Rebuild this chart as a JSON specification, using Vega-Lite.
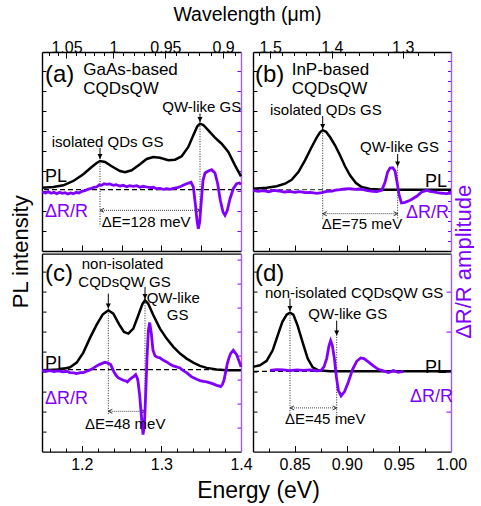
{
"$schema":"https://vega.github.io/schema/vega-lite/v6.json",
"padding":{"left":9,"top":4,"right":0,"bottom":0},
"bounds":"flush",
"columns":2,
"spacing":{"row":2.6,"column":12},
"config":{"view":{"stroke":null},
"axis":{"domainColor":"black","domainWidth":1.4,"tickColor":"black","tickWidth":1,"labelFont":"Liberation Sans","labelFontSize":16,"labelColor":"black","titleFont":"Liberation Sans","titleFontWeight":"normal","titleColor":"black","grid":false,"labelFlush":false,"labelOverlap":false},
"text":{"font":"Liberation Sans","align":"left","baseline":"alphabetic"}},
"datasets":{
"a_pl":[{"E":1.15,"v":63.3},{"E":1.1642,"v":64.0},{"E":1.1768,"v":65.7},{"E":1.1894,"v":70.0},{"E":1.2019,"v":76.7},{"E":1.2124,"v":84.0},{"E":1.2187,"v":88.0},{"E":1.2229,"v":90.0},{"E":1.2292,"v":89.0},{"E":1.2375,"v":84.7},{"E":1.248,"v":80.0},{"E":1.2543,"v":78.7},{"E":1.2626,"v":80.7},{"E":1.2731,"v":86.7},{"E":1.2815,"v":92.0},{"E":1.2899,"v":94.0},{"E":1.2982,"v":93.3},{"E":1.3087,"v":90.7},{"E":1.3171,"v":91.3},{"E":1.3255,"v":94.7},{"E":1.3338,"v":104.0},{"E":1.3401,"v":115.7},{"E":1.3451,"v":124.7},{"E":1.3485,"v":127.3},{"E":1.3527,"v":126.0},{"E":1.359,"v":120.7},{"E":1.3673,"v":113.3},{"E":1.3757,"v":107.3},{"E":1.3841,"v":99.0},{"E":1.3925,"v":85.7},{"E":1.4,"v":74.7}],
"a_dr":[{"E":1.15,"v":59.0},{"E":1.1545,"v":58.0},{"E":1.158,"v":59.3},{"E":1.1615,"v":57.7},{"E":1.165,"v":58.7},{"E":1.1684,"v":57.3},{"E":1.172,"v":58.7},{"E":1.1755,"v":57.7},{"E":1.179,"v":58.3},{"E":1.1825,"v":57.0},{"E":1.186,"v":58.0},{"E":1.1895,"v":57.3},{"E":1.193,"v":58.7},{"E":1.1965,"v":58.0},{"E":1.2,"v":59.7},{"E":1.204,"v":60.3},{"E":1.2075,"v":61.7},{"E":1.211,"v":62.3},{"E":1.215,"v":63.7},{"E":1.2187,"v":64.0},{"E":1.222,"v":66.3},{"E":1.225,"v":65.7},{"E":1.228,"v":67.3},{"E":1.2312,"v":66.7},{"E":1.235,"v":67.0},{"E":1.2396,"v":65.7},{"E":1.243,"v":66.3},{"E":1.248,"v":65.0},{"E":1.252,"v":65.7},{"E":1.2564,"v":64.3},{"E":1.26,"v":65.3},{"E":1.2647,"v":64.7},{"E":1.269,"v":65.3},{"E":1.2731,"v":63.7},{"E":1.277,"v":64.7},{"E":1.2815,"v":64.0},{"E":1.286,"v":63.3},{"E":1.2899,"v":63.7},{"E":1.294,"v":62.3},{"E":1.2982,"v":62.7},{"E":1.3025,"v":61.7},{"E":1.3066,"v":62.3},{"E":1.311,"v":61.7},{"E":1.315,"v":62.7},{"E":1.32,"v":63.3},{"E":1.3234,"v":64.3},{"E":1.328,"v":66.0},{"E":1.3317,"v":67.3},{"E":1.3372,"v":68.7},{"E":1.3401,"v":64.0},{"E":1.3426,"v":47.3},{"E":1.3447,"v":30.7},{"E":1.3464,"v":22.3},{"E":1.3481,"v":29.0},{"E":1.3502,"v":50.7},{"E":1.3523,"v":70.7},{"E":1.3548,"v":78.0},{"E":1.359,"v":80.0},{"E":1.3631,"v":81.3},{"E":1.3673,"v":78.0},{"E":1.3707,"v":67.3},{"E":1.374,"v":50.7},{"E":1.3774,"v":39.0},{"E":1.3799,"v":35.7},{"E":1.3828,"v":40.7},{"E":1.3862,"v":52.3},{"E":1.3903,"v":62.3},{"E":1.3945,"v":67.3},{"E":1.3979,"v":68.0},{"E":1.4,"v":66.7}],
"b_pl":[{"E":0.81,"v":62.3},{"E":0.8231,"v":63.3},{"E":0.8327,"v":64.7},{"E":0.8407,"v":67.3},{"E":0.8471,"v":71.3},{"E":0.8535,"v":79.0},{"E":0.8599,"v":90.7},{"E":0.8663,"v":104.0},{"E":0.8711,"v":113.3},{"E":0.8743,"v":118.7},{"E":0.8769,"v":120.7},{"E":0.8801,"v":119.3},{"E":0.8839,"v":114.0},{"E":0.8887,"v":105.7},{"E":0.8935,"v":95.7},{"E":0.8983,"v":84.7},{"E":0.9031,"v":75.7},{"E":0.9088,"v":68.0},{"E":0.9143,"v":64.0},{"E":0.9223,"v":62.0},{"E":0.9351,"v":61.3},{"E":0.9671,"v":61.3},{"E":1.0,"v":61.3}],
"b_dr":[{"E":0.81,"v":60.7},{"E":0.815,"v":59.7},{"E":0.8199,"v":60.3},{"E":0.825,"v":59.3},{"E":0.83,"v":60.7},{"E":0.835,"v":60.0},{"E":0.84,"v":59.0},{"E":0.8455,"v":59.7},{"E":0.85,"v":58.7},{"E":0.855,"v":59.3},{"E":0.86,"v":58.3},{"E":0.865,"v":58.7},{"E":0.8711,"v":57.7},{"E":0.876,"v":58.3},{"E":0.8807,"v":59.7},{"E":0.886,"v":60.0},{"E":0.89,"v":61.0},{"E":0.8935,"v":61.3},{"E":0.898,"v":62.0},{"E":0.9031,"v":62.3},{"E":0.908,"v":61.7},{"E":0.912,"v":62.0},{"E":0.9159,"v":61.3},{"E":0.92,"v":60.3},{"E":0.925,"v":59.7},{"E":0.9287,"v":59.3},{"E":0.9335,"v":60.7},{"E":0.9367,"v":68.7},{"E":0.9392,"v":79.0},{"E":0.9415,"v":83.0},{"E":0.9441,"v":83.3},{"E":0.9463,"v":80.0},{"E":0.9482,"v":69.0},{"E":0.9501,"v":56.7},{"E":0.9524,"v":48.0},{"E":0.9559,"v":48.7},{"E":0.9607,"v":50.7},{"E":0.964,"v":52.7},{"E":0.9671,"v":54.7},{"E":0.9719,"v":59.0},{"E":0.9767,"v":60.7},{"E":0.98,"v":59.7},{"E":0.9831,"v":59.0},{"E":0.987,"v":58.3},{"E":0.9895,"v":58.0},{"E":0.993,"v":57.7},{"E":0.9959,"v":57.3},{"E":1.0,"v":58.0}],
"c_pl":[{"E":1.15,"v":81.3},{"E":1.1726,"v":82.0},{"E":1.1852,"v":84.3},{"E":1.1936,"v":89.0},{"E":1.2019,"v":99.0},{"E":1.2103,"v":113.7},{"E":1.2187,"v":127.0},{"E":1.2262,"v":137.0},{"E":1.2333,"v":141.3},{"E":1.2396,"v":138.0},{"E":1.2471,"v":127.0},{"E":1.253,"v":119.7},{"E":1.2585,"v":118.0},{"E":1.2647,"v":123.0},{"E":1.271,"v":136.3},{"E":1.276,"v":147.3},{"E":1.2794,"v":151.3},{"E":1.2836,"v":147.7},{"E":1.2899,"v":136.3},{"E":1.2982,"v":123.0},{"E":1.3066,"v":113.0},{"E":1.315,"v":104.7},{"E":1.3234,"v":98.0},{"E":1.3317,"v":93.0},{"E":1.3401,"v":89.0},{"E":1.3485,"v":85.7},{"E":1.3569,"v":83.7},{"E":1.3694,"v":82.0},{"E":1.382,"v":81.3},{"E":1.4,"v":81.3}],
"c_dr":[{"E":1.15,"v":81.3},{"E":1.155,"v":80.3},{"E":1.1601,"v":81.0},{"E":1.165,"v":80.0},{"E":1.17,"v":80.7},{"E":1.1768,"v":79.7},{"E":1.181,"v":80.3},{"E":1.1852,"v":79.0},{"E":1.19,"v":78.7},{"E":1.1936,"v":78.0},{"E":1.198,"v":79.0},{"E":1.2019,"v":79.0},{"E":1.206,"v":80.3},{"E":1.2103,"v":81.7},{"E":1.215,"v":83.7},{"E":1.2187,"v":85.7},{"E":1.222,"v":87.0},{"E":1.225,"v":88.0},{"E":1.229,"v":89.3},{"E":1.2312,"v":89.0},{"E":1.234,"v":88.0},{"E":1.2363,"v":87.0},{"E":1.2385,"v":83.0},{"E":1.2404,"v":79.7},{"E":1.243,"v":76.3},{"E":1.2459,"v":73.7},{"E":1.249,"v":72.7},{"E":1.2522,"v":71.3},{"E":1.255,"v":70.7},{"E":1.2572,"v":69.7},{"E":1.26,"v":72.0},{"E":1.2627,"v":73.7},{"E":1.2655,"v":75.3},{"E":1.2677,"v":77.0},{"E":1.2695,"v":74.0},{"E":1.2706,"v":70.3},{"E":1.2727,"v":56.3},{"E":1.2748,"v":36.3},{"E":1.2769,"v":17.0},{"E":1.2786,"v":26.3},{"E":1.2802,"v":56.3},{"E":1.2819,"v":93.0},{"E":1.2836,"v":121.3},{"E":1.2853,"v":129.0},{"E":1.2874,"v":118.0},{"E":1.2894,"v":101.3},{"E":1.292,"v":95.7},{"E":1.295,"v":94.3},{"E":1.2982,"v":93.7},{"E":1.3025,"v":91.3},{"E":1.3066,"v":89.7},{"E":1.311,"v":87.3},{"E":1.315,"v":85.7},{"E":1.319,"v":84.7},{"E":1.3234,"v":83.7},{"E":1.3275,"v":81.0},{"E":1.3317,"v":79.0},{"E":1.335,"v":76.7},{"E":1.338,"v":74.7},{"E":1.341,"v":73.7},{"E":1.3443,"v":72.3},{"E":1.3485,"v":71.0},{"E":1.3527,"v":70.3},{"E":1.357,"v":69.7},{"E":1.3611,"v":68.7},{"E":1.365,"v":67.7},{"E":1.3694,"v":66.3},{"E":1.372,"v":65.7},{"E":1.3744,"v":65.0},{"E":1.3766,"v":67.0},{"E":1.3786,"v":71.3},{"E":1.3808,"v":80.0},{"E":1.3828,"v":88.0},{"E":1.385,"v":94.0},{"E":1.3869,"v":98.0},{"E":1.3903,"v":101.3},{"E":1.3945,"v":97.0},{"E":1.3979,"v":89.7},{"E":1.4,"v":84.7}],
"d_pl":[{"E":0.81,"v":84.7},{"E":0.8167,"v":86.3},{"E":0.8231,"v":90.7},{"E":0.8289,"v":101.3},{"E":0.8337,"v":116.3},{"E":0.8382,"v":129.7},{"E":0.8423,"v":137.0},{"E":0.8455,"v":139.0},{"E":0.8487,"v":137.0},{"E":0.8529,"v":125.7},{"E":0.8577,"v":109.0},{"E":0.8625,"v":93.0},{"E":0.8673,"v":84.3},{"E":0.8727,"v":81.3},{"E":0.8839,"v":80.3},{"E":1.0,"v":80.3}],
"d_dr":[{"E":0.8263,"v":81.3},{"E":0.8327,"v":82.0},{"E":0.8391,"v":81.7},{"E":0.8455,"v":81.0},{"E":0.8519,"v":81.7},{"E":0.8583,"v":81.3},{"E":0.8647,"v":81.7},{"E":0.8711,"v":80.7},{"E":0.8749,"v":81.0},{"E":0.8781,"v":84.7},{"E":0.8807,"v":93.0},{"E":0.8829,"v":105.7},{"E":0.8845,"v":111.0},{"E":0.8861,"v":106.3},{"E":0.8881,"v":93.0},{"E":0.89,"v":74.7},{"E":0.8919,"v":61.3},{"E":0.8945,"v":55.7},{"E":0.8977,"v":59.7},{"E":0.9015,"v":69.7},{"E":0.9056,"v":82.3},{"E":0.9095,"v":90.3},{"E":0.9133,"v":93.7},{"E":0.9165,"v":93.0},{"E":0.9207,"v":89.7},{"E":0.9255,"v":85.7},{"E":0.9303,"v":82.3},{"E":0.9351,"v":80.7},{"E":0.9399,"v":79.0},{"E":0.9447,"v":81.0},{"E":0.9495,"v":79.3},{"E":0.9543,"v":80.3}],
"ann":[
{"p":"a","k":"base","v":61.3},
{"p":"a","k":"vdot","E":1.2229,"v":90,"v2":26},
{"p":"a","k":"vdot","E":1.3485,"v":127.3,"v2":33},
{"p":"a","k":"stem","E":1.2229,"v":103,"v2":92},
{"p":"a","k":"stem","E":1.3485,"v":137.5,"v2":129},
{"p":"a","k":"de","E":1.2229,"E2":1.3485,"v":40.7},
{"p":"a","k":"lab","E":1.1538,"v":169.2,"t":"(a)"},
{"p":"a","k":"sub","E":1.2019,"v":175.7,"t":"GaAs-based"},
{"p":"a","k":"sub","E":1.2019,"v":157.4,"t":"CQDsQW"},
{"p":"a","k":"note","E":1.3011,"v":139,"t":"QW-like GS"},
{"p":"a","k":"note","E":1.1622,"v":104,"t":"isolated QDs GS"},
{"p":"a","k":"note","E":1.225,"v":24,"t":"ΔE=128 meV"},
{"p":"a","k":"pl","E":1.1538,"v":69,"t":"PL"},
{"p":"a","k":"dr","E":1.1538,"v":34,"t":"ΔR/R"},
{"p":"b","k":"base","v":61.3},
{"p":"b","k":"vdot","E":0.8769,"v":120.7,"v2":32.3},
{"p":"b","k":"vdot","E":0.9488,"v":83.7,"v2":32.3},
{"p":"b","k":"stem","E":0.8769,"v":135,"v2":122},
{"p":"b","k":"stem","E":0.9488,"v":97,"v2":84.5},
{"p":"b","k":"de","E":0.8769,"E2":0.9488,"v":37.3},
{"p":"b","k":"lab","E":0.8119,"v":169.2,"t":"(b)"},
{"p":"b","k":"sub","E":0.8471,"v":175.7,"t":"InP-based"},
{"p":"b","k":"sub","E":0.8471,"v":157.4,"t":"CQDsQW"},
{"p":"b","k":"note","E":0.8263,"v":135.7,"t":"isolated QDs GS"},
{"p":"b","k":"note","E":0.9127,"v":99,"t":"QW-like GS"},
{"p":"b","k":"note","E":0.8759,"v":22.3,"t":"ΔE=75 meV"},
{"p":"b","k":"pl","E":0.9751,"v":64,"t":"PL"},
{"p":"b","k":"dr","E":0.9568,"v":33,"t":"ΔR/R"},
{"p":"c","k":"base","v":82.0},
{"p":"c","k":"vdot","E":1.2333,"v":141.3,"v2":36.3},
{"p":"c","k":"vdot","E":1.2794,"v":151.3,"v2":36.3},
{"p":"c","k":"stem","E":1.2333,"v":158,"v2":143},
{"p":"c","k":"stem","E":1.2794,"v":164.7,"v2":152.5},
{"p":"c","k":"de","E":1.2333,"E2":1.2794,"v":40.3},
{"p":"c","k":"lab","E":1.1538,"v":170.3,"t":"(c)"},
{"p":"c","k":"note","E":1.1999,"v":183,"t":"non-isolated"},
{"p":"c","k":"note","E":1.1956,"v":164.7,"t":"CQDsQW GS"},
{"p":"c","k":"note","E":1.2815,"v":148.7,"t":"QW-like"},
{"p":"c","k":"note","E":1.3067,"v":132,"t":"GS"},
{"p":"c","k":"note","E":1.204,"v":22.3,"t":"ΔE=48 meV"},
{"p":"c","k":"pl","E":1.1538,"v":82.3,"t":"PL"},
{"p":"c","k":"dr","E":1.1538,"v":48,"t":"ΔR/R"},
{"p":"d","k":"base","v":80.3},
{"p":"d","k":"vdot","E":0.8455,"v":139,"v2":36.3},
{"p":"d","k":"vdot","E":0.8903,"v":114.7,"v2":36.3},
{"p":"d","k":"stem","E":0.8455,"v":153,"v2":140.5},
{"p":"d","k":"stem","E":0.8903,"v":131,"v2":116},
{"p":"d","k":"de","E":0.8455,"E2":0.8903,"v":43.7},
{"p":"d","k":"lab","E":0.8119,"v":170.3,"t":"(d)"},
{"p":"d","k":"note","E":0.8215,"v":153.7,"t":"non-isolated CQDsQW GS"},
{"p":"d","k":"note","E":0.8631,"v":132.3,"t":"QW-like GS"},
{"p":"d","k":"note","E":0.8407,"v":28,"t":"ΔE=45 meV"},
{"p":"d","k":"pl","E":0.9751,"v":78.7,"t":"PL"},
{"p":"d","k":"dr","E":0.9607,"v":49.7,"t":"ΔR/R"}
]},
"concat":[
{"width":199,"height":199,"resolve":{"scale":{"x":"independent","y":"independent"}},
"layer":[
{"data":{"name":"ann"},"transform":[{"filter":"datum.p=='a'&&datum.k=='base'"}],"mark":{"type":"rule","color":"black","strokeWidth":1.2,"strokeDash":[5,3]},"encoding":{"y":{"field":"v","type":"quantitative","scale":{"domain":[0,199],"nice":false,"zero":false},"axis":null}}},
{"data":{"name":"ann"},"transform":[{"filter":"datum.p=='a'&&datum.k=='vdot'"}],"mark":{"type":"rule","color":"#222","strokeWidth":1,"strokeDash":[1,1.5]},"encoding":{"x":{"field":"E","type":"quantitative","scale":{"domain":[1.15,1.4],"nice":false,"zero":false},"axis":null},"y":{"field":"v","type":"quantitative","scale":{"domain":[0,199],"nice":false,"zero":false},"axis":null},"y2":{"field":"v2"}}},
{"data":{"name":"ann"},"transform":[{"filter":"datum.p=='a'&&datum.k=='de'"}],"mark":{"type":"rule","color":"#444","strokeWidth":1,"strokeDash":[1,1]},"encoding":{"x":{"field":"E","type":"quantitative","scale":{"domain":[1.15,1.4],"nice":false,"zero":false},"axis":null},"x2":{"field":"E2"},"y":{"field":"v","type":"quantitative","scale":{"domain":[0,199],"nice":false,"zero":false},"axis":null}}},
{"data":{"name":"ann"},"transform":[{"filter":"datum.p=='a'&&datum.k=='de'"}],"mark":{"type":"point","shape":"M0,0L2,-1M0,0L2,1","filled":false,"color":"#333","strokeWidth":1,"size":16,"opacity":1},"encoding":{"x":{"field":"E","type":"quantitative","scale":{"domain":[1.15,1.4],"nice":false,"zero":false},"axis":null},"y":{"field":"v","type":"quantitative","scale":{"domain":[0,199],"nice":false,"zero":false},"axis":null}}},
{"data":{"name":"ann"},"transform":[{"filter":"datum.p=='a'&&datum.k=='de'"}],"mark":{"type":"point","shape":"M0,0L-2,-1M0,0L-2,1","filled":false,"color":"#333","strokeWidth":1,"size":16,"opacity":1},"encoding":{"x":{"field":"E2","type":"quantitative","scale":{"domain":[1.15,1.4],"nice":false,"zero":false},"axis":null},"y":{"field":"v","type":"quantitative","scale":{"domain":[0,199],"nice":false,"zero":false},"axis":null}}},
{"data":{"name":"a_pl"},"mark":{"type":"line","color":"black","strokeWidth":2.5},"encoding":{"x":{"field":"E","type":"quantitative","scale":{"domain":[1.15,1.4],"nice":false,"zero":false},"axis":{"orient":"bottom","values":[1.175,1.2,1.225,1.25,1.275,1.3,1.325,1.35,1.375],"labels":false,"tickSize":{"condition":{"test":"datum.value==1.2||datum.value==1.25||datum.value==1.3||datum.value==1.35","value":-6},"value":-3.5},"title":null}},"y":{"field":"v","type":"quantitative","scale":{"domain":[0,199],"nice":false,"zero":false},"axis":{"orient":"left","values":[20,40,60,80,100,120,140,160,180],"labels":false,"tickSize":-4,"title":"PL intensity","titleFontSize":22,"titleX":-15,"titleY":199.3,"titleAngle":270,"titleBaseline":"alphabetic","titleAlign":"center"}}}},
{"data":{"name":"a_dr"},"mark":{"type":"line","color":"#8000ff","strokeWidth":2.8},"encoding":{"x":{"field":"E","type":"quantitative","scale":{"domain":[1.15,1.4],"nice":false,"zero":false},"axis":{"orient":"top","values":[1.15869,1.16962,1.18076,1.19212,1.20369,1.21549,1.22752,1.2398,1.25232,1.2651,1.27814,1.29146,1.30505,1.31894,1.33312,1.34761,1.36242,1.37756,1.39303],"tickSize":{"condition":{"test":"datum.value==1.18076||datum.value==1.2398||datum.value==1.30505||datum.value==1.37756","value":-6},"value":-3.5},"labelExpr":"datum.value==1.18076?'1.05':datum.value==1.2398?'1':datum.value==1.30505?'0.95':datum.value==1.37756?'0.9':''","labelPadding":3,"title":"Wavelength (μm)","titleFontSize":19.5,"titleX":205,"titleY":-31.7,"titleBaseline":"alphabetic","titleAlign":"center"}},"y":{"field":"v","type":"quantitative","scale":{"domain":[0,199],"nice":false,"zero":false},"axis":{"orient":"right","values":[20,40,60,80,100,120,140,160,180],"labels":false,"tickSize":-4,"domainColor":"#9b5cff","tickColor":"#8000ff","title":null}}}},
{"data":{"name":"ann"},"transform":[{"filter":"datum.p=='a'&&datum.k=='stem'"}],"mark":{"type":"rule","color":"black","strokeWidth":1},"encoding":{"x":{"field":"E","type":"quantitative","scale":{"domain":[1.15,1.4],"nice":false,"zero":false},"axis":null},"y":{"field":"v","type":"quantitative","scale":{"domain":[0,199],"nice":false,"zero":false},"axis":null},"y2":{"field":"v2"}}},
{"data":{"name":"ann"},"transform":[{"filter":"datum.p=='a'&&datum.k=='stem'"}],"mark":{"type":"point","shape":"M0,0L-1,-2L1,-2Z","filled":true,"color":"black","size":25,"opacity":1},"encoding":{"x":{"field":"E","type":"quantitative","scale":{"domain":[1.15,1.4],"nice":false,"zero":false},"axis":null},"y":{"field":"v2","type":"quantitative","scale":{"domain":[0,199],"nice":false,"zero":false},"axis":null}}},
{"data":{"name":"ann"},"transform":[{"filter":"datum.p=='a'&&datum.k=='lab'"}],"mark":{"type":"text","fontSize":24,"color":"black"},"encoding":{"x":{"field":"E","type":"quantitative","scale":{"domain":[1.15,1.4],"nice":false,"zero":false},"axis":null},"y":{"field":"v","type":"quantitative","scale":{"domain":[0,199],"nice":false,"zero":false},"axis":null},"text":{"field":"t"}}},
{"data":{"name":"ann"},"transform":[{"filter":"datum.p=='a'&&datum.k=='sub'"}],"mark":{"type":"text","fontSize":17,"color":"black"},"encoding":{"x":{"field":"E","type":"quantitative","scale":{"domain":[1.15,1.4],"nice":false,"zero":false},"axis":null},"y":{"field":"v","type":"quantitative","scale":{"domain":[0,199],"nice":false,"zero":false},"axis":null},"text":{"field":"t"}}},
{"data":{"name":"ann"},"transform":[{"filter":"datum.p=='a'&&datum.k=='note'"}],"mark":{"type":"text","fontSize":15,"color":"black"},"encoding":{"x":{"field":"E","type":"quantitative","scale":{"domain":[1.15,1.4],"nice":false,"zero":false},"axis":null},"y":{"field":"v","type":"quantitative","scale":{"domain":[0,199],"nice":false,"zero":false},"axis":null},"text":{"field":"t"}}},
{"data":{"name":"ann"},"transform":[{"filter":"datum.p=='a'&&datum.k=='pl'"}],"mark":{"type":"text","fontSize":18,"color":"black"},"encoding":{"x":{"field":"E","type":"quantitative","scale":{"domain":[1.15,1.4],"nice":false,"zero":false},"axis":null},"y":{"field":"v","type":"quantitative","scale":{"domain":[0,199],"nice":false,"zero":false},"axis":null},"text":{"field":"t"}}},
{"data":{"name":"ann"},"transform":[{"filter":"datum.p=='a'&&datum.k=='dr'"}],"mark":{"type":"text","fontSize":18,"color":"#8000ff"},"encoding":{"x":{"field":"E","type":"quantitative","scale":{"domain":[1.15,1.4],"nice":false,"zero":false},"axis":null},"y":{"field":"v","type":"quantitative","scale":{"domain":[0,199],"nice":false,"zero":false},"axis":null},"text":{"field":"t"}}}
]},
{"width":198,"height":199,"resolve":{"scale":{"x":"independent","y":"independent"}},
"layer":[
{"data":{"name":"ann"},"transform":[{"filter":"datum.p=='b'&&datum.k=='base'"}],"mark":{"type":"rule","color":"#555","strokeWidth":1.2,"strokeDash":[5,3]},"encoding":{"y":{"field":"v","type":"quantitative","scale":{"domain":[0,199],"nice":false,"zero":false},"axis":null}}},
{"data":{"name":"ann"},"transform":[{"filter":"datum.p=='b'&&datum.k=='vdot'"}],"mark":{"type":"rule","color":"#222","strokeWidth":1,"strokeDash":[1,1.5]},"encoding":{"x":{"field":"E","type":"quantitative","scale":{"domain":[0.81,1.0],"nice":false,"zero":false},"axis":null},"y":{"field":"v","type":"quantitative","scale":{"domain":[0,199],"nice":false,"zero":false},"axis":null},"y2":{"field":"v2"}}},
{"data":{"name":"ann"},"transform":[{"filter":"datum.p=='b'&&datum.k=='de'"}],"mark":{"type":"rule","color":"#444","strokeWidth":1,"strokeDash":[1,1]},"encoding":{"x":{"field":"E","type":"quantitative","scale":{"domain":[0.81,1.0],"nice":false,"zero":false},"axis":null},"x2":{"field":"E2"},"y":{"field":"v","type":"quantitative","scale":{"domain":[0,199],"nice":false,"zero":false},"axis":null}}},
{"data":{"name":"ann"},"transform":[{"filter":"datum.p=='b'&&datum.k=='de'"}],"mark":{"type":"point","shape":"M0,0L2,-1M0,0L2,1","filled":false,"color":"#333","strokeWidth":1,"size":16,"opacity":1},"encoding":{"x":{"field":"E","type":"quantitative","scale":{"domain":[0.81,1.0],"nice":false,"zero":false},"axis":null},"y":{"field":"v","type":"quantitative","scale":{"domain":[0,199],"nice":false,"zero":false},"axis":null}}},
{"data":{"name":"ann"},"transform":[{"filter":"datum.p=='b'&&datum.k=='de'"}],"mark":{"type":"point","shape":"M0,0L-2,-1M0,0L-2,1","filled":false,"color":"#333","strokeWidth":1,"size":16,"opacity":1},"encoding":{"x":{"field":"E2","type":"quantitative","scale":{"domain":[0.81,1.0],"nice":false,"zero":false},"axis":null},"y":{"field":"v","type":"quantitative","scale":{"domain":[0,199],"nice":false,"zero":false},"axis":null}}},
{"data":{"name":"b_pl"},"mark":{"type":"line","color":"black","strokeWidth":2.5},"encoding":{"x":{"field":"E","type":"quantitative","scale":{"domain":[0.81,1.0],"nice":false,"zero":false},"axis":{"orient":"bottom","values":[0.825,0.85,0.875,0.9,0.925,0.95,0.975],"labels":false,"tickSize":{"condition":{"test":"datum.value==0.85||datum.value==0.9||datum.value==0.95","value":-6},"value":-3.5},"title":null}},"y":{"field":"v","type":"quantitative","scale":{"domain":[0,199],"nice":false,"zero":false},"axis":{"orient":"left","values":[20,40,60,80,100,120,140,160,180],"labels":false,"tickSize":-4,"title":null}}}},
{"data":{"name":"b_dr"},"mark":{"type":"line","color":"#8000ff","strokeWidth":2.8},"encoding":{"x":{"field":"E","type":"quantitative","scale":{"domain":[0.81,1.0],"nice":false,"zero":false},"axis":{"orient":"top","values":[0.81566,0.82653,0.8377,0.84918,0.86097,0.8731,0.88557,0.89841,0.91162,0.92522,0.93924,0.95369,0.96859,0.98397,0.99984],"tickSize":{"condition":{"test":"datum.value==0.82653||datum.value==0.88557||datum.value==0.95369","value":-6},"value":-3.5},"labelExpr":"datum.value==0.82653?'1.5':datum.value==0.88557?'1.4':datum.value==0.95369?'1.3':''","labelPadding":3,"title":null}},"y":{"field":"v","type":"quantitative","scale":{"domain":[0,199],"nice":false,"zero":false},"axis":{"orient":"right","values":[10,20,30,40,50,60,70,80,90,100,110,120,130,140,150,160,170,180,190],"labels":false,"tickSize":-3.5,"domainColor":"#9b5cff","tickColor":"#8000ff","title":"ΔR/R amplitude","titleColor":"#8000ff","titleFontSize":22,"titleAngle":270,"titleX":19,"titleY":209.3,"titleBaseline":"alphabetic","titleAlign":"center"}}}},
{"data":{"name":"ann"},"transform":[{"filter":"datum.p=='b'&&datum.k=='stem'"}],"mark":{"type":"rule","color":"black","strokeWidth":1},"encoding":{"x":{"field":"E","type":"quantitative","scale":{"domain":[0.81,1.0],"nice":false,"zero":false},"axis":null},"y":{"field":"v","type":"quantitative","scale":{"domain":[0,199],"nice":false,"zero":false},"axis":null},"y2":{"field":"v2"}}},
{"data":{"name":"ann"},"transform":[{"filter":"datum.p=='b'&&datum.k=='stem'"}],"mark":{"type":"point","shape":"M0,0L-1,-2L1,-2Z","filled":true,"color":"black","size":25,"opacity":1},"encoding":{"x":{"field":"E","type":"quantitative","scale":{"domain":[0.81,1.0],"nice":false,"zero":false},"axis":null},"y":{"field":"v2","type":"quantitative","scale":{"domain":[0,199],"nice":false,"zero":false},"axis":null}}},
{"data":{"name":"ann"},"transform":[{"filter":"datum.p=='b'&&datum.k=='lab'"}],"mark":{"type":"text","fontSize":24,"color":"black"},"encoding":{"x":{"field":"E","type":"quantitative","scale":{"domain":[0.81,1.0],"nice":false,"zero":false},"axis":null},"y":{"field":"v","type":"quantitative","scale":{"domain":[0,199],"nice":false,"zero":false},"axis":null},"text":{"field":"t"}}},
{"data":{"name":"ann"},"transform":[{"filter":"datum.p=='b'&&datum.k=='sub'"}],"mark":{"type":"text","fontSize":17,"color":"black"},"encoding":{"x":{"field":"E","type":"quantitative","scale":{"domain":[0.81,1.0],"nice":false,"zero":false},"axis":null},"y":{"field":"v","type":"quantitative","scale":{"domain":[0,199],"nice":false,"zero":false},"axis":null},"text":{"field":"t"}}},
{"data":{"name":"ann"},"transform":[{"filter":"datum.p=='b'&&datum.k=='note'"}],"mark":{"type":"text","fontSize":15,"color":"black"},"encoding":{"x":{"field":"E","type":"quantitative","scale":{"domain":[0.81,1.0],"nice":false,"zero":false},"axis":null},"y":{"field":"v","type":"quantitative","scale":{"domain":[0,199],"nice":false,"zero":false},"axis":null},"text":{"field":"t"}}},
{"data":{"name":"ann"},"transform":[{"filter":"datum.p=='b'&&datum.k=='pl'"}],"mark":{"type":"text","fontSize":18,"color":"black"},"encoding":{"x":{"field":"E","type":"quantitative","scale":{"domain":[0.81,1.0],"nice":false,"zero":false},"axis":null},"y":{"field":"v","type":"quantitative","scale":{"domain":[0,199],"nice":false,"zero":false},"axis":null},"text":{"field":"t"}}},
{"data":{"name":"ann"},"transform":[{"filter":"datum.p=='b'&&datum.k=='dr'"}],"mark":{"type":"text","fontSize":18,"color":"#8000ff"},"encoding":{"x":{"field":"E","type":"quantitative","scale":{"domain":[0.81,1.0],"nice":false,"zero":false},"axis":null},"y":{"field":"v","type":"quantitative","scale":{"domain":[0,199],"nice":false,"zero":false},"axis":null},"text":{"field":"t"}}}
]},
{"width":199,"height":198,"resolve":{"scale":{"x":"independent","y":"independent"}},
"layer":[
{"data":{"name":"ann"},"transform":[{"filter":"datum.p=='c'&&datum.k=='base'"}],"mark":{"type":"rule","color":"black","strokeWidth":1.2,"strokeDash":[5,3]},"encoding":{"y":{"field":"v","type":"quantitative","scale":{"domain":[0,198],"nice":false,"zero":false},"axis":null}}},
{"data":{"name":"ann"},"transform":[{"filter":"datum.p=='c'&&datum.k=='vdot'"}],"mark":{"type":"rule","color":"#222","strokeWidth":1,"strokeDash":[1,1.5]},"encoding":{"x":{"field":"E","type":"quantitative","scale":{"domain":[1.15,1.4],"nice":false,"zero":false},"axis":null},"y":{"field":"v","type":"quantitative","scale":{"domain":[0,198],"nice":false,"zero":false},"axis":null},"y2":{"field":"v2"}}},
{"data":{"name":"ann"},"transform":[{"filter":"datum.p=='c'&&datum.k=='de'"}],"mark":{"type":"rule","color":"#444","strokeWidth":1,"strokeDash":[1,1]},"encoding":{"x":{"field":"E","type":"quantitative","scale":{"domain":[1.15,1.4],"nice":false,"zero":false},"axis":null},"x2":{"field":"E2"},"y":{"field":"v","type":"quantitative","scale":{"domain":[0,198],"nice":false,"zero":false},"axis":null}}},
{"data":{"name":"ann"},"transform":[{"filter":"datum.p=='c'&&datum.k=='de'"}],"mark":{"type":"point","shape":"M0,0L2,-1M0,0L2,1","filled":false,"color":"#333","strokeWidth":1,"size":16,"opacity":1},"encoding":{"x":{"field":"E","type":"quantitative","scale":{"domain":[1.15,1.4],"nice":false,"zero":false},"axis":null},"y":{"field":"v","type":"quantitative","scale":{"domain":[0,198],"nice":false,"zero":false},"axis":null}}},
{"data":{"name":"ann"},"transform":[{"filter":"datum.p=='c'&&datum.k=='de'"}],"mark":{"type":"point","shape":"M0,0L-2,-1M0,0L-2,1","filled":false,"color":"#333","strokeWidth":1,"size":16,"opacity":1},"encoding":{"x":{"field":"E2","type":"quantitative","scale":{"domain":[1.15,1.4],"nice":false,"zero":false},"axis":null},"y":{"field":"v","type":"quantitative","scale":{"domain":[0,198],"nice":false,"zero":false},"axis":null}}},
{"data":{"name":"c_pl"},"mark":{"type":"line","color":"black","strokeWidth":2.5},"encoding":{"x":{"field":"E","type":"quantitative","scale":{"domain":[1.15,1.4],"nice":false,"zero":false},"axis":{"orient":"bottom","values":[1.16,1.18,1.2,1.22,1.24,1.26,1.28,1.3,1.32,1.34,1.36,1.38,1.4],"tickSize":{"condition":{"test":"datum.value==1.2||datum.value==1.3||datum.value==1.4","value":-6},"value":-3.5},"labelExpr":"datum.value==1.2||datum.value==1.3||datum.value==1.4?format(datum.value,'.1f'):''","labelPadding":11,"title":"Energy (eV)","titleFontSize":23,"titleX":216,"titleY":45.7,"titleBaseline":"alphabetic","titleAlign":"center"}},"y":{"field":"v","type":"quantitative","scale":{"domain":[0,198],"nice":false,"zero":false},"axis":{"orient":"left","values":[20,40,60,80,100,120,140,160,180],"labels":false,"tickSize":-4,"title":null}}}},
{"data":{"name":"c_dr"},"mark":{"type":"line","color":"#8000ff","strokeWidth":2.8},"encoding":{"x":{"field":"E","type":"quantitative","scale":{"domain":[1.15,1.4],"nice":false,"zero":false},"axis":{"orient":"top","ticks":false,"labels":false,"title":null}},"y":{"field":"v","type":"quantitative","scale":{"domain":[0,198],"nice":false,"zero":false},"axis":{"orient":"right","values":[24,48,72,96,120,144,168,192],"labels":false,"tickSize":-4,"domainColor":"#9b5cff","tickColor":"#8000ff","title":null}}}},
{"data":{"name":"ann"},"transform":[{"filter":"datum.p=='c'&&datum.k=='stem'"}],"mark":{"type":"rule","color":"black","strokeWidth":1},"encoding":{"x":{"field":"E","type":"quantitative","scale":{"domain":[1.15,1.4],"nice":false,"zero":false},"axis":null},"y":{"field":"v","type":"quantitative","scale":{"domain":[0,198],"nice":false,"zero":false},"axis":null},"y2":{"field":"v2"}}},
{"data":{"name":"ann"},"transform":[{"filter":"datum.p=='c'&&datum.k=='stem'"}],"mark":{"type":"point","shape":"M0,0L-1,-2L1,-2Z","filled":true,"color":"black","size":25,"opacity":1},"encoding":{"x":{"field":"E","type":"quantitative","scale":{"domain":[1.15,1.4],"nice":false,"zero":false},"axis":null},"y":{"field":"v2","type":"quantitative","scale":{"domain":[0,198],"nice":false,"zero":false},"axis":null}}},
{"data":{"name":"ann"},"transform":[{"filter":"datum.p=='c'&&datum.k=='lab'"}],"mark":{"type":"text","fontSize":24,"color":"black"},"encoding":{"x":{"field":"E","type":"quantitative","scale":{"domain":[1.15,1.4],"nice":false,"zero":false},"axis":null},"y":{"field":"v","type":"quantitative","scale":{"domain":[0,198],"nice":false,"zero":false},"axis":null},"text":{"field":"t"}}},
{"data":{"name":"ann"},"transform":[{"filter":"datum.p=='c'&&datum.k=='note'"}],"mark":{"type":"text","fontSize":15,"color":"black"},"encoding":{"x":{"field":"E","type":"quantitative","scale":{"domain":[1.15,1.4],"nice":false,"zero":false},"axis":null},"y":{"field":"v","type":"quantitative","scale":{"domain":[0,198],"nice":false,"zero":false},"axis":null},"text":{"field":"t"}}},
{"data":{"name":"ann"},"transform":[{"filter":"datum.p=='c'&&datum.k=='pl'"}],"mark":{"type":"text","fontSize":18,"color":"black"},"encoding":{"x":{"field":"E","type":"quantitative","scale":{"domain":[1.15,1.4],"nice":false,"zero":false},"axis":null},"y":{"field":"v","type":"quantitative","scale":{"domain":[0,198],"nice":false,"zero":false},"axis":null},"text":{"field":"t"}}},
{"data":{"name":"ann"},"transform":[{"filter":"datum.p=='c'&&datum.k=='dr'"}],"mark":{"type":"text","fontSize":18,"color":"#8000ff"},"encoding":{"x":{"field":"E","type":"quantitative","scale":{"domain":[1.15,1.4],"nice":false,"zero":false},"axis":null},"y":{"field":"v","type":"quantitative","scale":{"domain":[0,198],"nice":false,"zero":false},"axis":null},"text":{"field":"t"}}}
]},
{"width":198,"height":198,"resolve":{"scale":{"x":"independent","y":"independent"}},
"layer":[
{"data":{"name":"ann"},"transform":[{"filter":"datum.p=='d'&&datum.k=='base'"}],"mark":{"type":"rule","color":"black","strokeWidth":1.2,"strokeDash":[5,3]},"encoding":{"y":{"field":"v","type":"quantitative","scale":{"domain":[0,198],"nice":false,"zero":false},"axis":null}}},
{"data":{"name":"ann"},"transform":[{"filter":"datum.p=='d'&&datum.k=='vdot'"}],"mark":{"type":"rule","color":"#222","strokeWidth":1,"strokeDash":[1,1.5]},"encoding":{"x":{"field":"E","type":"quantitative","scale":{"domain":[0.81,1.0],"nice":false,"zero":false},"axis":null},"y":{"field":"v","type":"quantitative","scale":{"domain":[0,198],"nice":false,"zero":false},"axis":null},"y2":{"field":"v2"}}},
{"data":{"name":"ann"},"transform":[{"filter":"datum.p=='d'&&datum.k=='de'"}],"mark":{"type":"rule","color":"#444","strokeWidth":1,"strokeDash":[1,1]},"encoding":{"x":{"field":"E","type":"quantitative","scale":{"domain":[0.81,1.0],"nice":false,"zero":false},"axis":null},"x2":{"field":"E2"},"y":{"field":"v","type":"quantitative","scale":{"domain":[0,198],"nice":false,"zero":false},"axis":null}}},
{"data":{"name":"ann"},"transform":[{"filter":"datum.p=='d'&&datum.k=='de'"}],"mark":{"type":"point","shape":"M0,0L2,-1M0,0L2,1","filled":false,"color":"#333","strokeWidth":1,"size":16,"opacity":1},"encoding":{"x":{"field":"E","type":"quantitative","scale":{"domain":[0.81,1.0],"nice":false,"zero":false},"axis":null},"y":{"field":"v","type":"quantitative","scale":{"domain":[0,198],"nice":false,"zero":false},"axis":null}}},
{"data":{"name":"ann"},"transform":[{"filter":"datum.p=='d'&&datum.k=='de'"}],"mark":{"type":"point","shape":"M0,0L-2,-1M0,0L-2,1","filled":false,"color":"#333","strokeWidth":1,"size":16,"opacity":1},"encoding":{"x":{"field":"E2","type":"quantitative","scale":{"domain":[0.81,1.0],"nice":false,"zero":false},"axis":null},"y":{"field":"v","type":"quantitative","scale":{"domain":[0,198],"nice":false,"zero":false},"axis":null}}},
{"data":{"name":"d_pl"},"mark":{"type":"line","color":"black","strokeWidth":2.5},"encoding":{"x":{"field":"E","type":"quantitative","scale":{"domain":[0.81,1.0],"nice":false,"zero":false},"axis":{"orient":"bottom","values":[0.825,0.85,0.875,0.9,0.925,0.95,0.975,1.0],"tickSize":{"condition":{"test":"datum.value==0.85||datum.value==0.9||datum.value==0.95||datum.value==1.0","value":-6},"value":-3.5},"labelExpr":"datum.value==0.85||datum.value==0.9||datum.value==0.95||datum.value==1.0?format(datum.value,'.2f'):''","labelPadding":11,"title":null}},"y":{"field":"v","type":"quantitative","scale":{"domain":[0,198],"nice":false,"zero":false},"axis":{"orient":"left","values":[20,40,60,80,100,120,140,160,180],"labels":false,"tickSize":-4,"title":null}}}},
{"data":{"name":"d_dr"},"mark":{"type":"line","color":"#8000ff","strokeWidth":2.8},"encoding":{"x":{"field":"E","type":"quantitative","scale":{"domain":[0.81,1.0],"nice":false,"zero":false},"axis":{"orient":"top","ticks":false,"labels":false,"title":null}},"y":{"field":"v","type":"quantitative","scale":{"domain":[0,198],"nice":false,"zero":false},"axis":{"orient":"right","values":[40,80,120,160],"labels":false,"tickSize":-5,"domainColor":"#9b5cff","tickColor":"#8000ff","title":null}}}},
{"data":{"name":"ann"},"transform":[{"filter":"datum.p=='d'&&datum.k=='stem'"}],"mark":{"type":"rule","color":"black","strokeWidth":1},"encoding":{"x":{"field":"E","type":"quantitative","scale":{"domain":[0.81,1.0],"nice":false,"zero":false},"axis":null},"y":{"field":"v","type":"quantitative","scale":{"domain":[0,198],"nice":false,"zero":false},"axis":null},"y2":{"field":"v2"}}},
{"data":{"name":"ann"},"transform":[{"filter":"datum.p=='d'&&datum.k=='stem'"}],"mark":{"type":"point","shape":"M0,0L-1,-2L1,-2Z","filled":true,"color":"black","size":25,"opacity":1},"encoding":{"x":{"field":"E","type":"quantitative","scale":{"domain":[0.81,1.0],"nice":false,"zero":false},"axis":null},"y":{"field":"v2","type":"quantitative","scale":{"domain":[0,198],"nice":false,"zero":false},"axis":null}}},
{"data":{"name":"ann"},"transform":[{"filter":"datum.p=='d'&&datum.k=='lab'"}],"mark":{"type":"text","fontSize":24,"color":"black"},"encoding":{"x":{"field":"E","type":"quantitative","scale":{"domain":[0.81,1.0],"nice":false,"zero":false},"axis":null},"y":{"field":"v","type":"quantitative","scale":{"domain":[0,198],"nice":false,"zero":false},"axis":null},"text":{"field":"t"}}},
{"data":{"name":"ann"},"transform":[{"filter":"datum.p=='d'&&datum.k=='note'"}],"mark":{"type":"text","fontSize":15,"color":"black"},"encoding":{"x":{"field":"E","type":"quantitative","scale":{"domain":[0.81,1.0],"nice":false,"zero":false},"axis":null},"y":{"field":"v","type":"quantitative","scale":{"domain":[0,198],"nice":false,"zero":false},"axis":null},"text":{"field":"t"}}},
{"data":{"name":"ann"},"transform":[{"filter":"datum.p=='d'&&datum.k=='pl'"}],"mark":{"type":"text","fontSize":18,"color":"black"},"encoding":{"x":{"field":"E","type":"quantitative","scale":{"domain":[0.81,1.0],"nice":false,"zero":false},"axis":null},"y":{"field":"v","type":"quantitative","scale":{"domain":[0,198],"nice":false,"zero":false},"axis":null},"text":{"field":"t"}}},
{"data":{"name":"ann"},"transform":[{"filter":"datum.p=='d'&&datum.k=='dr'"}],"mark":{"type":"text","fontSize":18,"color":"#8000ff"},"encoding":{"x":{"field":"E","type":"quantitative","scale":{"domain":[0.81,1.0],"nice":false,"zero":false},"axis":null},"y":{"field":"v","type":"quantitative","scale":{"domain":[0,198],"nice":false,"zero":false},"axis":null},"text":{"field":"t"}}}
]}
]}
